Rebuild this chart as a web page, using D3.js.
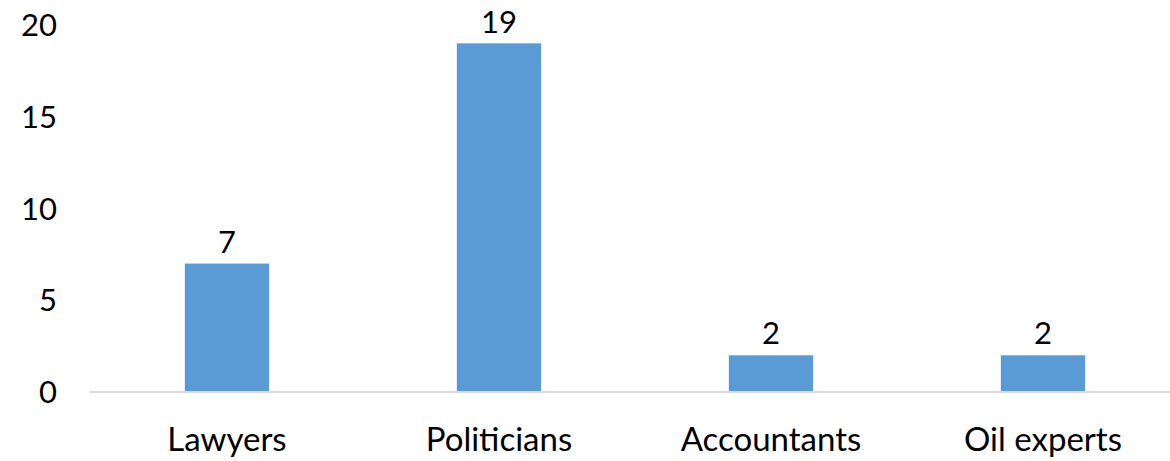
<!DOCTYPE html>
<html>
<head>
<meta charset="UTF-8">
<title>Bar chart</title>
<script src="https://cdn.jsdelivr.net/npm/d3@7"></script>
<style type="text/css">
	body{ margin:0; background:#fff; }
	svg{ display:block; font-family: Lato, "Open Sans", sans-serif; }
</style>
</head>
<body>
<script>
var categories = ["Lawyers", "Politicians", "Accountants", "Oil experts"];
var values = [7, 19, 2, 2];
var yTicks = [0, 5, 10, 15, 20];

var width = 1170, height = 461;
var svg = d3.select("body").append("svg")
	.attr("width", width)
	.attr("height", height);

var x = d3.scaleBand()
	.domain(categories)
	.range([91, 1179])
	.paddingInner(0.69)
	.paddingOuter(0.345);

var y = d3.scaleLinear()
	.domain([0, 20])
	.range([392, 25]);

// y tick labels (no axis line in the original)
svg.append("g").selectAll("text")
	.data(yTicks)
	.enter().append("text")
		.attr("x", 57)
		.attr("y", function(d){ return y(d); })
		.attr("dy", "0.36em")
		.attr("text-anchor", "end")
		.attr("font-size", 31)
		.attr("fill", "#000")
		.text(function(d){ return d; });

// bars
svg.append("g").selectAll("rect")
	.data(values)
	.enter().append("rect")
		.attr("x", function(d,i){ return x(categories[i]); })
		.attr("y", function(d){ return y(d); })
		.attr("width", x.bandwidth())
		.attr("height", function(d){ return y(0) - y(d); })
		.attr("fill", "#5B9BD5");

// baseline
svg.append("line")
	.attr("x1", 90).attr("x2", width)
	.attr("y1", y(0)).attr("y2", y(0))
	.attr("stroke", "#d9d9d9")
	.attr("stroke-width", 2);

// value labels
svg.append("g").selectAll("text")
	.data(values)
	.enter().append("text")
		.attr("x", function(d,i){ return x(categories[i]) + x.bandwidth()/2; })
		.attr("y", function(d){ return y(d) - 22; })
		.attr("dy", "0.36em")
		.attr("text-anchor", "middle")
		.attr("font-size", 31)
		.attr("fill", "#000")
		.text(function(d){ return d; });

// category labels
svg.append("g").selectAll("text")
	.data(categories)
	.enter().append("text")
		.attr("x", function(d){ return x(d) + x.bandwidth()/2; })
		.attr("y", 451)
		.attr("text-anchor", "middle")
		.attr("font-size", 33)
		.attr("fill", "#000")
		.text(function(d){ return d; });
</script>
</body>
</html>
